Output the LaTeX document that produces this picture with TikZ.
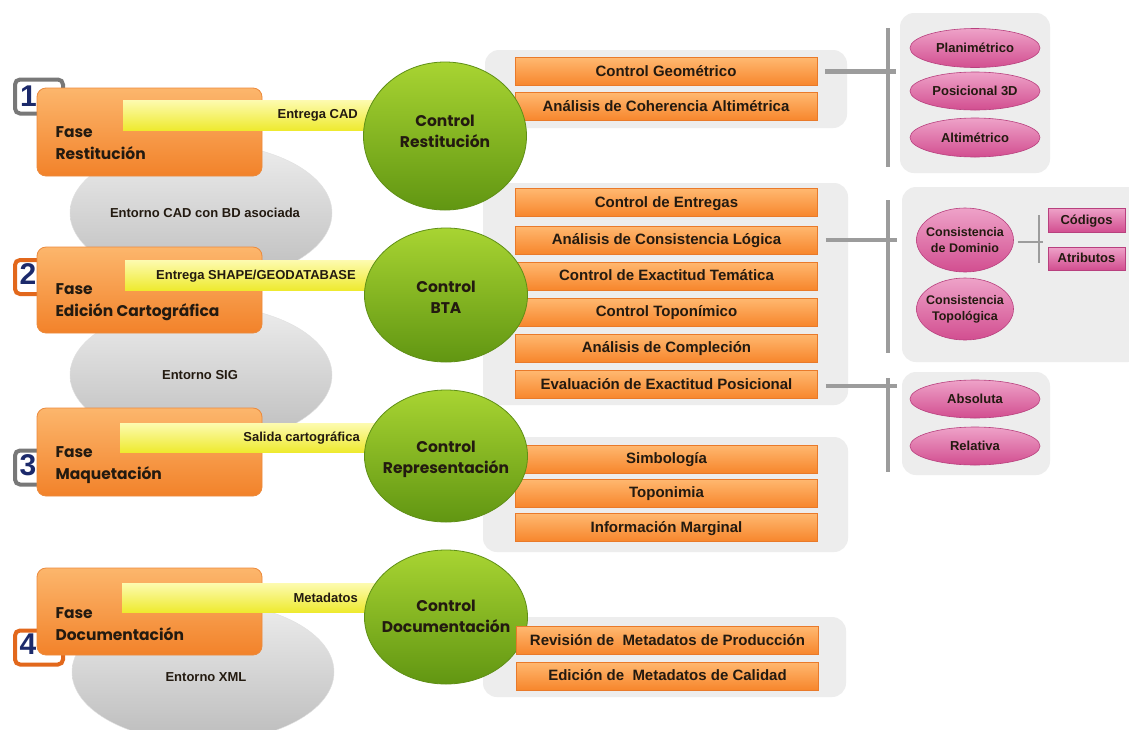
\documentclass[tikz,border=0pt]{standalone}
\usepackage{fontspec}
\setmainfont{Liberation Sans}
\newfontfamily\gothic{Poppins}
\usetikzlibrary{shapes.geometric}
\definecolor{orA}{HTML}{FCB66C}
\definecolor{orB}{HTML}{F2822A}
\definecolor{orD}{HTML}{EC8A3C}
\definecolor{barA}{HTML}{FFB870}
\definecolor{barB}{HTML}{F7862C}
\definecolor{barD}{HTML}{E97A2A}
\definecolor{yelA}{HTML}{FDFBB0}
\definecolor{yelB}{HTML}{EEEA30}
\definecolor{grnA}{HTML}{A8D432}
\definecolor{grnB}{HTML}{619612}
\definecolor{grnD}{HTML}{5F8F16}
\definecolor{pnkA}{HTML}{EEA2C8}
\definecolor{pnkB}{HTML}{D24E90}
\definecolor{pnkD}{HTML}{B8407E}
\definecolor{panel}{HTML}{EDEDED}
\definecolor{brk}{HTML}{9C9C9C}
\definecolor{elA}{HTML}{EDEDED}
\definecolor{elB}{HTML}{BCBCBC}
\definecolor{navy}{HTML}{1C2A6B}
\definecolor{numgray}{HTML}{787878}
\definecolor{numor}{HTML}{E2681C}
\definecolor{txt}{HTML}{231A10}
\begin{document}
\begin{tikzpicture}[x=1pt,y=-1pt,
  phasebox/.style={rectangle, rounded corners=9pt, draw=orD, line width=0.8pt,
    top color=orA, bottom color=orB, minimum width=225pt, inner sep=0pt},
  phasetxt/.style={anchor=west, align=left, text=txt,
    font=\gothic\bfseries\fontsize{15.5}{22}\selectfont},
  ybar/.style={rectangle, top color=yelA, bottom color=yelB, minimum height=30pt,
    inner sep=0pt},
  ytxt/.style={anchor=east, text=txt, inner sep=0pt,
    font=\bfseries\fontsize{13}{15}\selectfont},
  ctrl/.style={ellipse, draw=grnD, line width=0.8pt, top color=grnA, bottom color=grnB,
    inner sep=0pt, minimum width=163pt},
  ctrltxt/.style={align=center, text=txt, inner sep=0pt,
    font=\gothic\bfseries\fontsize{15.5}{21}\selectfont},
  panelbox/.style={rectangle, rounded corners=14pt, fill=panel, inner sep=0pt},
  obar/.style={rectangle, draw=barD, line width=0.6pt, top color=barA, bottom color=barB,
    minimum width=302pt, minimum height=28pt, inner sep=0pt, text=txt,
    text height=11.5pt, text depth=2.5pt,
    font=\bfseries\fontsize{15}{17}\selectfont},
  pink/.style={ellipse, draw=pnkD, line width=0.6pt, top color=pnkA, bottom color=pnkB,
    align=center, inner sep=0pt, text=txt,
    font=\bfseries\fontsize{13}{16}\selectfont},
  pinktxt/.style={align=center, inner sep=0pt, text=txt,
    font=\bfseries\fontsize{13}{16}\selectfont},
  pinkbox/.style={rectangle, draw=pnkD, line width=0.6pt, top color=pnkA, bottom color=pnkB,
    minimum width=77pt, minimum height=24pt, inner sep=0pt, text=txt,
    text height=10pt, text depth=2pt,
    font=\bfseries\fontsize{13}{15}\selectfont},
  envell/.style={ellipse, top color=elA, bottom color=elB, draw=elB!80!black!30,
    minimum width=262pt, minimum height=140pt, inner sep=0pt},
  envtxt/.style={inner sep=0pt, text=txt, font=\bfseries\fontsize{13}{15}\selectfont},
  numbox/.style={rectangle, rounded corners=5pt, fill=white, line width=4pt,
    minimum width=48pt, minimum height=34pt, inner sep=0pt},
  numtxt/.style={text=navy, inner sep=0pt, font=\bfseries\fontsize{30}{30}\selectfont},
  brkline/.style={draw=brk, line width=4.5pt},
  brkthin/.style={draw=brk, line width=2pt}
]
\clip (0,0) rectangle (1129,729);
\fill[white] (0,0) rectangle (1129,729);

% environment ellipses
\node[envell] (e1) at (201,213) {};
\node[envell] (e2) at (201,375) {};
\node[envell] (e3) at (203,672) {};
\node[envtxt] (e1t) at (205,213) {Entorno CAD con BD asociada};
\node[envtxt] (e2t) at (200,375) {Entorno SIG};
\node[envtxt] (e3t) at (206,677) {Entorno XML};

% number boxes
\node[numbox, draw=numgray] (n1) at (39,96.5) {};
\node[numbox, draw=numor] (n2) at (39,277) {};
\node[numbox, draw=numgray] (n3) at (39,467.5) {};
\node[numbox, draw=numor] (n4) at (39,647.5) {};
\node[numtxt] (n1t) at (28.5,96) {1};
\node[numtxt] (n2t) at (28,274) {2};
\node[numtxt] (n3t) at (28,465) {3};
\node[numtxt] (n4t) at (28,644) {4};

% phase boxes
\node[phasebox, minimum height=88pt] (p1) at (149.5,132) {};
\node[phasebox, minimum height=86pt] (p2) at (149.5,290) {};
\node[phasebox, minimum height=88pt] (p3) at (149.5,452) {};
\node[phasebox, minimum height=87pt] (p4) at (149.5,611.5) {};
\node[phasetxt] (p1t) at (52,143) {Fase\\Restitución};
\node[phasetxt] (p2t) at (52,302.5) {Fase\\Edición Cartográfica};
\node[phasetxt] (p3t) at (52,465) {Fase\\Maquetación};
\node[phasetxt] (p4t) at (52,624) {Fase\\Documentación};

% yellow bars
\node[ybar, minimum width=277pt] (y1) at (261.5,115) {};
\node[ybar, minimum width=275pt] (y2) at (262.5,275) {};
\node[ybar, minimum width=280pt, minimum height=29pt] (y3) at (260,437.5) {};
\node[ybar, minimum width=278pt, minimum height=29pt] (y4) at (261,597.5) {};
\node[ytxt] (y1t) at (358,115) {Entrega CAD};
\node[ytxt] (y2t) at (356,276) {Entrega SHAPE/GEODATABASE};
\node[ytxt] (y3t) at (360,438) {Salida cartográfica};
\node[ytxt] (y4t) at (358,598) {Metadatos};

% grey panels
\node[panelbox, minimum width=362pt, minimum height=78pt] (g1) at (666,89) {};
\node[panelbox, minimum width=365pt, minimum height=222pt] (g2) at (665.5,294) {};
\node[panelbox, minimum width=365pt, minimum height=115pt] (g3) at (665.5,494.5) {};
\node[panelbox, minimum width=363pt, minimum height=80pt] (g4) at (664.5,657) {};
\node[panelbox, minimum width=150pt, minimum height=160pt] (r1) at (975,93) {};
\node[panelbox, minimum width=240pt, minimum height=175pt] (r2) at (1022,274.5) {};
\node[panelbox, minimum width=148pt, minimum height=103pt] (r3) at (976,423.5) {};

% orange bars (panels 1-3)
\node[obar] (cg) at (666,71.5) {Control Geométrico};
\node[obar] (aca) at (666,106.5) {Análisis de Coherencia Altimétrica};
\node[obar] (ce) at (666.5,202.5) {Control de Entregas};
\node[obar] (acl) at (666.5,240) {Análisis de Consistencia Lógica};
\node[obar] (cet) at (666.5,276) {Control de Exactitud Temática};
\node[obar] (ct) at (666.5,312) {Control Toponímico};
\node[obar] (ac) at (666.5,348) {Análisis de Compleción};
\node[obar] (eep) at (666.5,384.5) {Evaluación de Exactitud Posicional};
\node[obar] (sim) at (666.5,459) {Simbología};
\node[obar] (top) at (666.5,493) {Toponimia};
\node[obar] (im) at (666.5,527.5) {Información Marginal};

% control circles
\node[ctrl, minimum height=148pt] (c1) at (445,136) {};
\node[ctrl, minimum height=134pt] (c2) at (446,295) {};
\node[ctrl, minimum height=132pt] (c3) at (446,456) {};
\node[ctrl, minimum height=134pt] (c4) at (446,617) {};
\node[ctrltxt] (c1t) at (445,131) {Control\\Restitución};
\node[ctrltxt] (c2t) at (446,297.5) {Control\\BTA};
\node[ctrltxt] (c3t) at (446,459) {Control\\Representación};
\node[ctrltxt] (c4t) at (446,616.5) {Control\\Documentación};

% orange bars (panel 4)
\node[obar] (rmp) at (667.5,640.5) {Revisión de \ Metadatos de Producción};
\node[obar] (emc) at (667.5,676) {Edición de \ Metadatos de Calidad};

% brackets
\coordinate (v1a) at (888,28);  \coordinate (v1b) at (888,167);
\coordinate (v2a) at (888,200); \coordinate (v2b) at (888,353);
\coordinate (v3a) at (888,378); \coordinate (v3b) at (888,472);
\draw[brkline] (v1a) -- (v1b);
\draw[brkline] (v2a) -- (v2b);
\draw[brkline] (v3a) -- (v3b);
\draw[brkline] ([xshift=8pt]cg.east) -- ([xshift=79pt]cg.east);
\draw[brkline] ([xshift=8pt]acl.east) -- ([xshift=79pt]acl.east);
\draw[brkline] ([xshift=8pt,yshift=-1.5pt]eep.east) -- ([xshift=79pt,yshift=-1.5pt]eep.east);

% pink ellipses
\node[pink, minimum width=130pt, minimum height=39pt] (pl) at (975,48) {Planimétrico};
\node[pink, minimum width=130pt, minimum height=38pt] (p3d) at (975,91) {Posicional 3D};
\node[pink, minimum width=130pt, minimum height=39pt] (alt) at (975,137.5) {Altimétrico};
\node[pink, minimum width=97pt, minimum height=64pt] (cd) at (965,240) {};
\node[pink, minimum width=97pt, minimum height=62pt] (ctp) at (965,309) {};
\node[pinktxt, font=\bfseries\fontsize{12.5}{16}\selectfont] (cdt) at (965,240) {Consistencia\\de Dominio};
\node[pinktxt, font=\bfseries\fontsize{12.5}{16}\selectfont] (ctpt) at (965,309) {Consistencia\\Topológica};
\node[pink, minimum width=130pt, minimum height=38pt] (abs) at (975,399) {Absoluta};
\node[pink, minimum width=130pt, minimum height=38pt] (rel) at (975,446) {Relativa};
\node[pinkbox] (cod) at (1086.5,220) {Códigos};
\node[pinkbox, minimum height=23pt] (atr) at (1086.5,258.5) {Atributos};

\coordinate (v4a) at (1039,215); \coordinate (v4b) at (1039,263);
\draw[brkthin] (v4a) -- (v4b);
\draw[brkthin] ([xshift=4pt,yshift=-2pt]cd.east) -- ([xshift=29pt,yshift=-2pt]cd.east);
\end{tikzpicture}
\end{document}
